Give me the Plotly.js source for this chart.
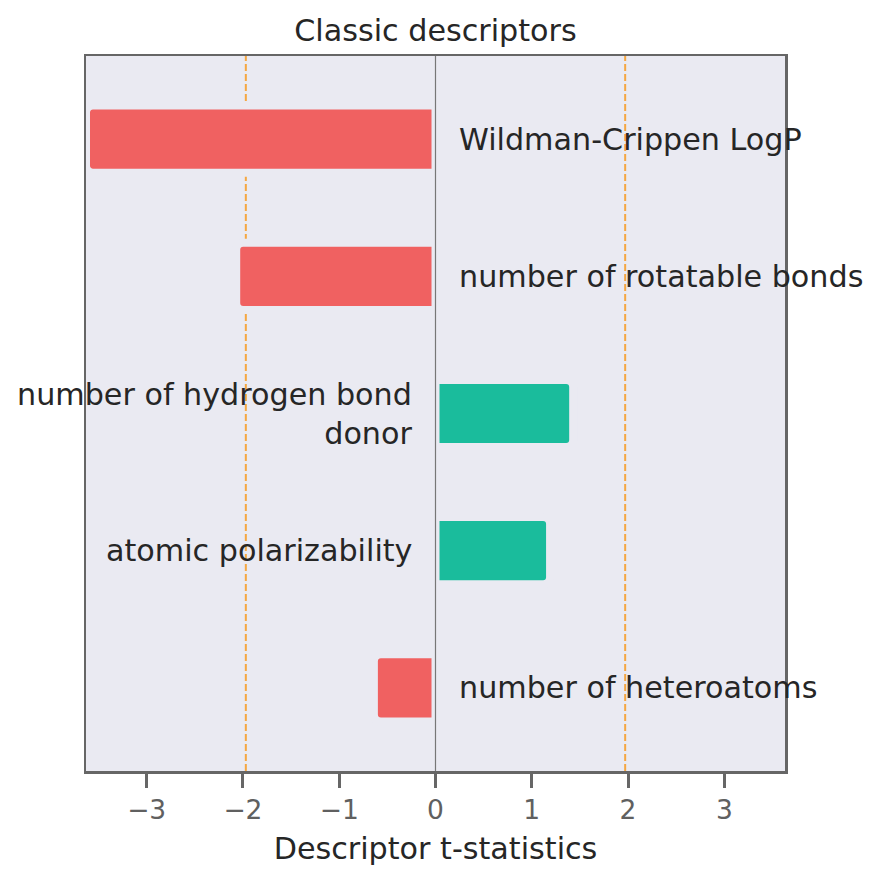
<!DOCTYPE html>
<html>
<head>
<meta charset="utf-8">
<script src="https://cdn.plot.ly/plotly-3.0.1.min.js"></script>
<style>html,body{margin:0;padding:0;background:#fff;}#chart{width:880px;height:881px;}</style>
</head>
<body>
<div id="chart"></div>
<script>
const descriptors = ['Wildman-Crippen LogP', 'number of rotatable bonds', 'number of hydrogen bond donor', 'atomic polarizability', 'number of heteroatoms'];
const labels = ['Wildman-Crippen LogP', 'number of rotatable bonds', 'number of hydrogen bond<br>donor', 'atomic polarizability', 'number of heteroatoms'];
const tStats = [-3.63, -2.07, 1.43, 1.19, -0.64];
const criticalT = 1.97;
const xTicks = [-3, -2, -1, 0, 1, 2, 3];

const RED = '#F06161', GREEN = '#1ABC9C', BG = '#EAEAF2';
const FONT = 'DejaVu Sans';

const trace = {
  type: 'bar', orientation: 'h',
  y: descriptors, x: tStats,
  width: 0.49,
  marker: {
    color: tStats.map(v => v < 0 ? RED : GREEN),
    line: {color: BG, width: 8},
    cornerradius: 7
  },
  hoverinfo: 'x+y'
};

const annotations = descriptors.map((d, i) => ({
  x: tStats[i] < 0 ? 0.22 : -0.22,
  y: d,
  xref: 'x', yref: 'y',
  text: labels[i],
  showarrow: false,
  xanchor: tStats[i] < 0 ? 'left' : 'right',
  yanchor: 'middle',
  align: tStats[i] < 0 ? 'left' : 'right',
  font: {family: FONT, size: 30.2, color: '#262626'}
}));

const shapes = [
  {type: 'line', xref: 'x', yref: 'paper', x0: -criticalT, x1: -criticalT, y0: 0, y1: 1, layer: 'below',
   line: {color: '#F5A742', width: 2, dash: '7px,3px'}},
  {type: 'line', xref: 'x', yref: 'paper', x0: criticalT, x1: criticalT, y0: 0, y1: 1, layer: 'below',
   line: {color: '#F5A742', width: 2, dash: '7px,3px'}},
  {type: 'line', xref: 'x', yref: 'paper', x0: 0, x1: 0, y0: 0, y1: 1, layer: 'above',
   line: {color: '#777777', width: 1.2}}
];

const layout = {
  width: 880, height: 881,
  margin: {l: 86, r: 95, t: 56, b: 110},
  paper_bgcolor: '#ffffff',
  plot_bgcolor: BG,
  showlegend: false,
  title: {
    text: 'Classic descriptors',
    x: 0.5, xref: 'paper', xanchor: 'center',
    y: 1, yref: 'paper', yanchor: 'bottom',
    pad: {b: 15},
    font: {family: FONT, size: 30.2, color: '#262626'}
  },
  xaxis: {
    range: [-3.63, 3.63],
    tickvals: xTicks,
    ticks: 'outside', ticklen: 14, tickwidth: 3, tickcolor: '#666666',
    tickfont: {family: FONT, size: 26.5, color: '#606060'},
    showgrid: false, zeroline: false,
    showline: true, mirror: true, linecolor: '#666666', linewidth: 2.5,
    title: {text: 'Descriptor t-statistics', standoff: 14, font: {family: FONT, size: 30.2, color: '#262626'}},
    fixedrange: true
  },
  yaxis: {
    type: 'category',
    range: [4.605, -0.605],
    showticklabels: false, ticks: '',
    showgrid: false, zeroline: false,
    showline: true, mirror: true, linecolor: '#666666', linewidth: 2.5,
    fixedrange: true
  },
  annotations: annotations,
  shapes: shapes,
  font: {family: FONT}
};

Plotly.newPlot('chart', [trace], layout, {displayModeBar: false, staticPlot: true});
</script>
</body>
</html>
